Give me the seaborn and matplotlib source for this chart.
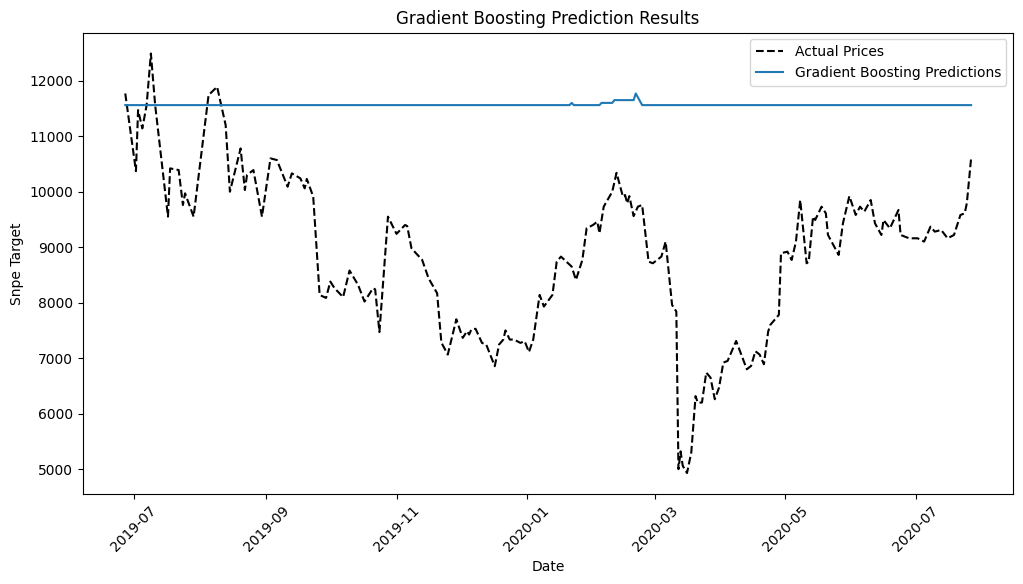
import pandas as pd
import matplotlib.pyplot as plt
import seaborn as sns

# --- Values ---
actual_dates = [
    "2019-06-27", "2019-07-02", "2019-07-03", "2019-07-05", "2019-07-07", "2019-07-09",
    "2019-07-11", "2019-07-17", "2019-07-18", "2019-07-22", "2019-07-24", "2019-07-25",
    "2019-07-29", "2019-08-05", "2019-08-09", "2019-08-13", "2019-08-15", "2019-08-20",
    "2019-08-22", "2019-08-23", "2019-08-26", "2019-08-30", "2019-09-03", "2019-09-06",
    "2019-09-11", "2019-09-13", "2019-09-17", "2019-09-19", "2019-09-20", "2019-09-23",
    "2019-09-26", "2019-09-29", "2019-10-01", "2019-10-03", "2019-10-07", "2019-10-10",
    "2019-10-14", "2019-10-17", "2019-10-21", "2019-10-22", "2019-10-24", "2019-10-28",
    "2019-11-01", "2019-11-05", "2019-11-06", "2019-11-08", "2019-11-13", "2019-11-16",
    "2019-11-20", "2019-11-22", "2019-11-25", "2019-11-29", "2019-12-02", "2019-12-04",
    "2019-12-05", "2019-12-06", "2019-12-08", "2019-12-11", "2019-12-13", "2019-12-17",
    "2019-12-19", "2019-12-21", "2019-12-22", "2019-12-24", "2019-12-26", "2019-12-29",
    "2019-12-31", "2020-01-02", "2020-01-04", "2020-01-07", "2020-01-09", "2020-01-13",
    "2020-01-15", "2020-01-17", "2020-01-22", "2020-01-24", "2020-01-27", "2020-01-29",
    "2020-02-01", "2020-02-03", "2020-02-04", "2020-02-06", "2020-02-10", "2020-02-12",
    "2020-02-15", "2020-02-16", "2020-02-17", "2020-02-18", "2020-02-20", "2020-02-22",
    "2020-02-24", "2020-02-27", "2020-02-29", "2020-03-04", "2020-03-06", "2020-03-09",
    "2020-03-11", "2020-03-12", "2020-03-13", "2020-03-14", "2020-03-16", "2020-03-18",
    "2020-03-20", "2020-03-21", "2020-03-23", "2020-03-25", "2020-03-27", "2020-03-29",
    "2020-03-31", "2020-04-02", "2020-04-04", "2020-04-08", "2020-04-13", "2020-04-15",
    "2020-04-17", "2020-04-19", "2020-04-21", "2020-04-23", "2020-04-24", "2020-04-28",
    "2020-04-29", "2020-05-02", "2020-05-04", "2020-05-06", "2020-05-08", "2020-05-11",
    "2020-05-12", "2020-05-14", "2020-05-15", "2020-05-18", "2020-05-20", "2020-05-21",
    "2020-05-26", "2020-05-28", "2020-05-31", "2020-06-03", "2020-06-05", "2020-06-07",
    "2020-06-10", "2020-06-12", "2020-06-15", "2020-06-16", "2020-06-19", "2020-06-23",
    "2020-06-24", "2020-06-28", "2020-07-02", "2020-07-05", "2020-07-08", "2020-07-10",
    "2020-07-13", "2020-07-16", "2020-07-19", "2020-07-22", "2020-07-24", "2020-07-25",
    "2020-07-27",
]
actual_prices = [
    11770, 10370, 11470, 11140, 11560, 12490,
    11560, 9550, 10420, 10390, 9760, 9970,
    9550, 11740, 11890, 11200, 10000, 10780,
    10030, 10300, 10390, 9550, 10600, 10570,
    10090, 10330, 10240, 10060, 10230, 9910,
    8140, 8085, 8380, 8260, 8100, 8580,
    8320, 8020, 8260, 8240, 7470, 9550,
    9240, 9400, 9380, 8980, 8770, 8440,
    8170, 7280, 7065, 7700, 7365, 7485,
    7425, 7515, 7530, 7275, 7245, 6855,
    7245, 7335, 7500, 7335, 7335, 7275,
    7305, 7110, 7335, 8140, 7930, 8140,
    8740, 8830, 8650, 8410, 8770, 9340,
    9400, 9460, 9250, 9730, 10000, 10340,
    9910, 9940, 9790, 9920, 9560, 9730,
    9760, 8740, 8710, 8830, 9100, 7960,
    7840, 5000, 5320, 5060, 4930, 5300,
    6316, 6200, 6200, 6740, 6650, 6260,
    6470, 6920, 6950, 7310, 6800, 6860,
    7125, 7065, 6890, 7480, 7600, 7780,
    8890, 8920, 8770, 9100, 9850, 8710,
    8740, 9550, 9490, 9730, 9610, 9220,
    8860, 9430, 9920, 9580, 9730, 9640,
    9850, 9430, 9220, 9490, 9340, 9670,
    9220, 9160, 9160, 9100, 9370, 9280,
    9310, 9160, 9220, 9580, 9610, 9790,
    10600,
]

pred_dates = [
    "2019-06-27", "2020-01-21", "2020-01-22", "2020-01-23", "2020-02-04", "2020-02-05",
    "2020-02-10", "2020-02-11", "2020-02-20", "2020-02-21", "2020-02-24", "2020-07-27",
]
pred_values = [
    11560, 11560, 11600, 11560, 11560, 11600,
    11600, 11650, 11650, 11770, 11560, 11560,
]

actual = pd.DataFrame({"Date": pd.to_datetime(actual_dates), "Price": actual_prices})
pred = pd.DataFrame({"Date": pd.to_datetime(pred_dates), "Price": pred_values})

# --- Figure ---
fig = plt.figure(figsize=(10.23, 5.84), dpi=100)
ax = fig.add_axes([0.0811, 0.1541, 0.9095, 0.7902])

sns.lineplot(data=actual, x="Date", y="Price", color="black", linestyle="--",
             label="Actual Prices", ax=ax)
sns.lineplot(data=pred, x="Date", y="Price", color="#1f77b4",
             label="Gradient Boosting Predictions", ax=ax)

ax.set_title("Gradient Boosting Prediction Results")
ax.set_xlabel("Date")
ax.set_ylabel("Snpe Target")
ax.tick_params(axis="x", labelrotation=45)
ax.legend(loc="upper right")

plt.savefig("out.png", dpi=100)
